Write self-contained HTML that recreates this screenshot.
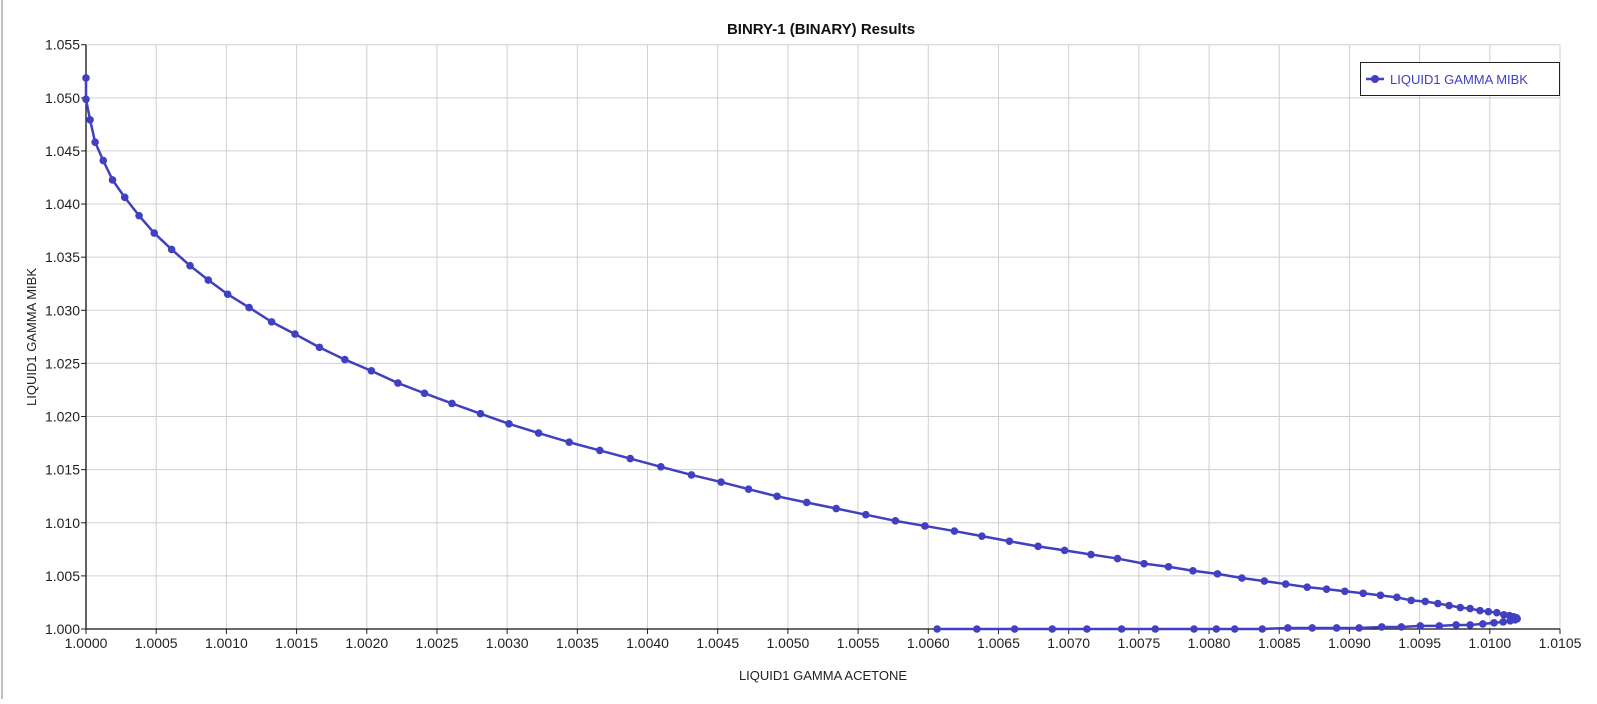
<!DOCTYPE html>
<html><head><meta charset="utf-8"><style>
html,body{margin:0;padding:0;background:#fff;}
body{width:1597px;height:699px;overflow:hidden;font-family:"Liberation Sans",sans-serif;}
svg text{font-family:"Liberation Sans",sans-serif;}
</style></head><body>
<svg id="chart" width="1597" height="699" xmlns="http://www.w3.org/2000/svg">
<rect x="0" y="0" width="1597" height="699" fill="#fff"/>
<line x1="2" y1="0" x2="2" y2="699" stroke="#aaa" stroke-width="1.5"/>
<g id="grid"></g>
<g id="axes"></g>
<g id="series"></g>
<text x="821" y="34" text-anchor="middle" font-size="15" font-weight="bold" fill="#111">BINRY-1 (BINARY) Results</text>
<text x="823" y="680" text-anchor="middle" font-size="13" fill="#222">LIQUID1 GAMMA ACETONE</text>
<text transform="translate(36,337) rotate(-90)" text-anchor="middle" font-size="13" fill="#222">LIQUID1 GAMMA MIBK</text>
<g>
<rect x="1360.5" y="62.5" width="199" height="33" fill="#fff" stroke="#222"/>
<line x1="1366" y1="79" x2="1384" y2="79" stroke="#4040c0" stroke-width="2.5"/>
<circle cx="1375" cy="79" r="4" fill="#4040c0"/>
<text x="1390" y="84" font-size="13" fill="#4040c0">LIQUID1 GAMMA MIBK</text>
</g>
</svg>
<script>
// offsets: acetone = 1 + acetoneDelta*1e-4 ; mibk = 1 + mibkDelta*1e-3
const acetoneDelta=[0,0,0.29,0.65,1.23,1.89,2.76,3.78,4.86,6.10,7.41,8.71,10.09,11.62,13.22,14.89,16.63,18.44,20.33,22.22,24.11,26.07,28.10,30.13,32.24,34.42,36.60,38.77,40.95,43.13,45.24,47.20,49.23,51.34,53.44,55.55,57.66,59.76,61.86,63.82,65.78,67.82,69.71,71.59,73.48,75.37,77.11,78.85,80.60,82.34,83.94,85.46,86.99,88.37,89.67,90.98,92.21,93.38,94.40,95.40,96.30,97.10,97.90,98.60,99.30,99.90,100.50,101.00,101.40,101.70,101.90,101.95,101.80,101.45,100.95,100.30,99.50,98.60,97.60,96.40,95.05,93.70,92.30,90.69,89.09,87.35,85.61,83.79,81.83,80.52,78.93,76.17,73.77,71.30,68.83,66.15,63.46,60.63];
const mibkDelta=[51.87,49.86,47.93,45.82,44.09,42.27,40.63,38.91,37.27,35.73,34.20,32.85,31.51,30.26,28.91,27.76,26.51,25.36,24.30,23.15,22.19,21.23,20.27,19.31,18.44,17.58,16.81,16.04,15.27,14.50,13.83,13.16,12.49,11.91,11.34,10.76,10.18,9.70,9.22,8.74,8.26,7.78,7.40,7.01,6.63,6.15,5.86,5.48,5.19,4.80,4.51,4.23,3.94,3.75,3.55,3.36,3.17,2.98,2.69,2.59,2.40,2.21,2.02,1.92,1.73,1.63,1.54,1.34,1.25,1.15,1.06,0.96,0.86,0.77,0.67,0.58,0.48,0.38,0.38,0.29,0.29,0.19,0.19,0.10,0.10,0.10,0.10,0,0,0,0,0,0,0,0,0,0,0];
const xTicks=["1.0000","1.0005","1.0010","1.0015","1.0020","1.0025","1.0030","1.0035","1.0040","1.0045","1.0050","1.0055","1.0060","1.0065","1.0070","1.0075","1.0080","1.0085","1.0090","1.0095","1.0100","1.0105"];
const yTicks=["1.000","1.005","1.010","1.015","1.020","1.025","1.030","1.035","1.040","1.045","1.050","1.055"];

const NS="http://www.w3.org/2000/svg";
const L=86,R=1560,T=44.7,B=629;
const xMin=1.0,xMax=1.0105,yMin=1.0,yMax=1.055;
const sx=v=>L+(v-xMin)/(xMax-xMin)*(R-L);
const sy=v=>B-(v-yMin)/(yMax-yMin)*(B-T);
function mk(tag,attrs,parent){const e=document.createElementNS(NS,tag);for(const k in attrs)e.setAttribute(k,attrs[k]);parent.appendChild(e);return e;}
const grid=document.getElementById('grid'),axes=document.getElementById('axes'),series=document.getElementById('series');
xTicks.forEach(t=>{const x=sx(parseFloat(t));
 const g=mk('line',{x1:x,x2:x,y1:T,y2:B,stroke:'#d0d0d0','stroke-width':1},grid);
 
 
 mk('line',{x1:x,x2:x,y1:B,y2:B+5,stroke:'#222'},axes);
 const tx=mk('text',{x:x,y:B+19,'text-anchor':'middle','font-size':14,fill:'#222'},axes);tx.textContent=t;
 
 
});
yTicks.forEach(t=>{const y=sy(parseFloat(t));
 const g=mk('line',{x1:L,x2:R,y1:y,y2:y,stroke:'#d0d0d0','stroke-width':1},grid);
 
 
 mk('line',{x1:L-5,x2:L,y1:y,y2:y,stroke:'#222'},axes);
 const tx=mk('text',{x:L-6,y:y+5,'text-anchor':'end','font-size':14,fill:'#222'},axes);tx.textContent=t;
 
 
});
mk('line',{x1:L,x2:L,y1:T,y2:B,stroke:'#111','stroke-width':1.3},axes);
mk('line',{x1:L,x2:R,y1:B,y2:B,stroke:'#111','stroke-width':1.3},axes);
const pts=acetoneDelta.map((a,i)=>[sx(1+a*1e-4),sy(1+mibkDelta[i]*1e-3)]);
const pl=mk('polyline',{points:pts.map(p=>p.join(',')).join(' '),fill:'none',stroke:'#4040c0','stroke-width':2.5,'stroke-linejoin':'round'},series);


pts.forEach(p=>{const c=mk('circle',{cx:p[0],cy:p[1],r:3.8,fill:'#4040c0'},series);
 
 
});
</script>
</body></html>
